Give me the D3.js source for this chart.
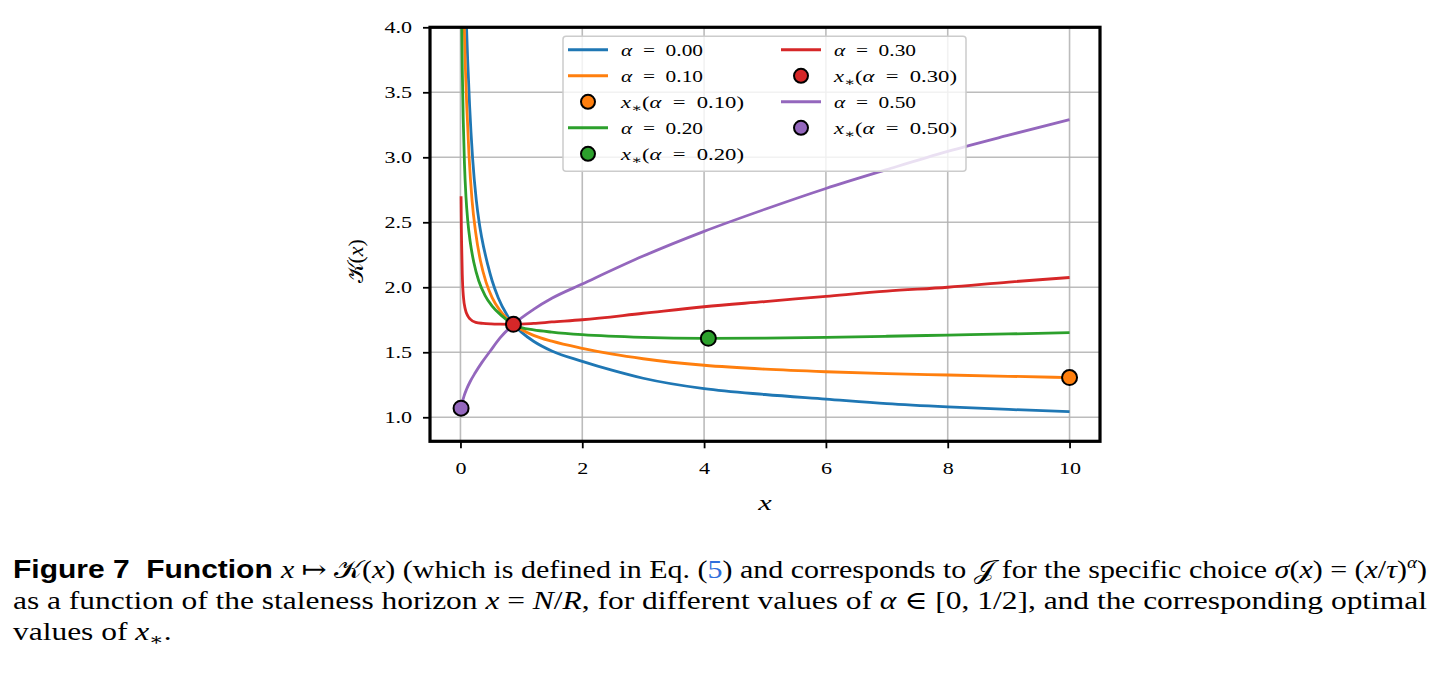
<!DOCTYPE html>
<html>
<head>
<meta charset="utf-8">
<script src="https://cdn.jsdelivr.net/npm/d3@7"></script>
<style>
  body { margin: 0; background: #fff; }
  text { font-family: "Liberation Serif", "DejaVu Serif", serif; }
</style>
</head>
<body>
<div id="figure-container"></div>
<script>
// ---- data ----
var xTicks = [0, 2, 4, 6, 8, 10];
var yTicks = [1.0, 1.5, 2.0, 2.5, 3.0, 3.5, 4.0];

var alphaLabels = ['0.00', '0.10', '0.20', '0.30', '0.50'];
var colors = ['#1f77b4', '#ff7f0e', '#2ca02c', '#d62728', '#9467bd'];

// alpha = 0.00
var xA0 = [0.094, 0.12, 0.15, 0.2, 0.26, 0.31, 0.35, 0.45, 0.52, 0.62, 0.76, 0.87, 1.0, 1.2, 1.5, 2, 2.5, 3, 4, 5, 6, 7, 8, 9, 10];
var kA0 = [4.08, 3.73, 3.40, 2.99, 2.67, 2.49, 2.38, 2.17, 2.05, 1.92, 1.79, 1.715, 1.655, 1.585, 1.51, 1.43, 1.36, 1.30, 1.22, 1.175, 1.14, 1.105, 1.08, 1.06, 1.043];
// alpha = 0.10
var xA1 = [0.06, 0.08, 0.105, 0.14, 0.19, 0.25, 0.33, 0.42, 0.52, 0.65, 0.76, 0.87, 1.0, 1.2, 1.5, 2, 2.5, 3, 4, 5, 6, 7, 8, 9, 10];
var kA1 = [4.05, 3.70, 3.38, 3.02, 2.67, 2.42, 2.20, 2.04, 1.92, 1.82, 1.76, 1.715, 1.675, 1.63, 1.585, 1.53, 1.485, 1.45, 1.40, 1.37, 1.35, 1.335, 1.325, 1.315, 1.305];
// alpha = 0.20
var xA2 = [0.02, 0.03, 0.045, 0.065, 0.09, 0.12, 0.16, 0.22, 0.3, 0.4, 0.52, 0.68, 0.87, 1.0, 1.2, 1.5, 2, 3, 4, 5, 6, 7, 8, 9, 10];
var kA2 = [4.05, 3.68, 3.30, 2.96, 2.70, 2.51, 2.35, 2.19, 2.05, 1.94, 1.855, 1.78, 1.715, 1.69, 1.672, 1.655, 1.635, 1.614, 1.607, 1.609, 1.615, 1.623, 1.632, 1.641, 1.651];
// alpha = 0.30
var xA3 = [0.01, 0.015, 0.02, 0.03, 0.05, 0.08, 0.12, 0.16, 0.25, 0.37, 0.5, 0.65, 0.87, 1.2, 1.5, 2, 3, 4, 5, 6, 7, 8, 9, 10];
var kA3 = [2.70, 2.45, 2.32, 2.10, 1.92, 1.83, 1.78, 1.755, 1.73, 1.722, 1.718, 1.716, 1.715, 1.722, 1.733, 1.75, 1.80, 1.85, 1.89, 1.93, 1.97, 2.00, 2.04, 2.075];
// alpha = 0.50
var xA5 = [0.01, 0.03, 0.06, 0.1, 0.16, 0.24, 0.35, 0.49, 0.65, 0.87, 1.2, 1.5, 2, 3, 4, 5, 6, 7, 8, 9, 10];
var kA5 = [1.07, 1.115, 1.165, 1.215, 1.275, 1.34, 1.42, 1.51, 1.61, 1.715, 1.83, 1.915, 2.025, 2.24, 2.43, 2.60, 2.76, 2.905, 3.045, 3.17, 3.29];

// optimal points x_* (alpha = 0.10, 0.20, 0.30, 0.50)
var optAlpha = ['0.10', '0.20', '0.30', '0.50'];
var optX = [10, 4.07, 0.87, 0.01];
var optK = [1.305, 1.607, 1.715, 1.07];

var xsList = [xA0, xA1, xA2, xA3, xA5];
var ksList = [kA0, kA1, kA2, kA3, kA5];

// ---- layout ----
var fullWidth = 1446, fullHeight = 678;
var margin = {top: 27.3, left: 430};
var width = 670;
var height = 414;

// the figure is a bit wider than tall, glyphs included
var stretchX = 1.38;

var xScale = d3.scaleLinear().domain([-0.5, 10.5]).range([0, width]);
var yScale = d3.scaleLinear().domain([0.815, 4.0]).range([height, 0]);

var root = d3.select('#figure-container')
  .append('svg')
  .attr('width', fullWidth)
  .attr('height', fullHeight);

root.append('rect').attr('width', fullWidth).attr('height', fullHeight).attr('fill', '#fff');

var svg = root.append('g')
  .attr('transform', `translate(${margin.left},${margin.top})`);

svg.append('defs').append('clipPath')
  .attr('id', 'clip')
  .append('rect')
  .attr('width', width)
  .attr('height', height);

function stretch(sel, k) {
  sel.each(function() {
    var len = this.getComputedTextLength();
    d3.select(this).attr('textLength', len * k).attr('lengthAdjust', 'spacingAndGlyphs');
  });
}

// grid
svg.append('g').selectAll('line')
  .data(xTicks).enter().append('line')
  .attr('x1', d => xScale(d)).attr('x2', d => xScale(d))
  .attr('y1', 0).attr('y2', height)
  .attr('stroke', '#b0b0b0').attr('stroke-width', 1.6).attr('stroke-opacity', 0.85);
svg.append('g').selectAll('line')
  .data(yTicks).enter().append('line')
  .attr('y1', d => yScale(d)).attr('y2', d => yScale(d))
  .attr('x1', 0).attr('x2', width)
  .attr('stroke', '#b0b0b0').attr('stroke-width', 1.6).attr('stroke-opacity', 0.85);

// curves
var line = d3.line()
  .x(d => xScale(d[0]))
  .y(d => yScale(d[1]))
  .curve(d3.curveMonotoneX);

var dataArea = svg.append('g').attr('clip-path', 'url(#clip)');
xsList.forEach(function(xs, i) {
  var pts = xs.map((x, j) => [x, ksList[i][j]]);
  dataArea.append('path')
    .datum(pts)
    .attr('d', line)
    .attr('fill', 'none')
    .attr('stroke', colors[i])
    .attr('stroke-width', 2.8)
    .attr('stroke-linejoin', 'round');
});

// optimum markers
svg.append('g').selectAll('circle')
  .data(optX).enter().append('circle')
  .attr('cx', d => xScale(d))
  .attr('cy', (d, i) => yScale(optK[i]))
  .attr('r', 7.5)
  .attr('fill', (d, i) => colors[i + 1])
  .attr('stroke', '#000')
  .attr('stroke-width', 2);

// axes
var xAxis = d3.axisBottom(xScale).tickValues(xTicks).tickFormat(d3.format('d')).tickSize(7).tickPadding(14);
var yAxis = d3.axisLeft(yScale).tickValues(yTicks).tickFormat(d3.format('.1f')).tickSize(7).tickPadding(11);

var gx = svg.append('g').attr('transform', `translate(0,${height})`).call(xAxis);
var gy = svg.append('g').call(yAxis);
[gx, gy].forEach(function(g) {
  g.select('.domain').remove();
  g.selectAll('line').attr('stroke', '#000').attr('stroke-width', 1.8);
  g.selectAll('text')
    .attr('font-family', '"Liberation Serif", serif')
    .attr('font-size', 16)
    .attr('fill', '#000')
    .call(stretch, stretchX);
});

// frame
svg.append('rect')
  .attr('width', width).attr('height', height)
  .attr('fill', 'none').attr('stroke', '#000').attr('stroke-width', 3.2);

// axis labels
svg.append('text')
  .attr('x', xScale(5)).attr('y', height + 69)
  .attr('text-anchor', 'middle')
  .attr('font-size', 22).attr('font-style', 'italic')
  .text('x')
  .call(stretch, stretchX);

svg.append('text')
  .attr('transform', `translate(-67,${yScale(2.2)}) rotate(-90)`)
  .attr('text-anchor', 'middle')
  .attr('font-size', 22)
  .call(function(t) {
    t.append('tspan').text('𝒦(');
    t.append('tspan').attr('font-style', 'italic').text('x');
    t.append('tspan').text(')');
  });

// legend
var legend = svg.append('g').attr('transform', 'translate(133,9)');
legend.append('rect')
  .attr('width', 403).attr('height', 135).attr('rx', 3)
  .attr('fill', '#fff').attr('fill-opacity', 0.8)
  .attr('stroke', '#ccc').attr('stroke-width', 1.5);

var legendItems = [
  {col: 0, row: 0, kind: 'line', c: 0, a: alphaLabels[0]},
  {col: 0, row: 1, kind: 'line', c: 1, a: alphaLabels[1]},
  {col: 0, row: 2, kind: 'dot', c: 1, a: optAlpha[0]},
  {col: 0, row: 3, kind: 'line', c: 2, a: alphaLabels[2]},
  {col: 0, row: 4, kind: 'dot', c: 2, a: optAlpha[1]},
  {col: 1, row: 0, kind: 'line', c: 3, a: alphaLabels[3]},
  {col: 1, row: 1, kind: 'dot', c: 3, a: optAlpha[2]},
  {col: 1, row: 2, kind: 'line', c: 4, a: alphaLabels[4]},
  {col: 1, row: 3, kind: 'dot', c: 4, a: optAlpha[3]}
];

var eq = '\u2002=\u2002';
legendItems.forEach(function(it) {
  var hx = 5 + it.col * 213;
  var ry = 13.5 + it.row * 26;
  var g = legend.append('g');
  if (it.kind === 'line') {
    g.append('line')
      .attr('x1', hx).attr('x2', hx + 40)
      .attr('y1', ry).attr('y2', ry)
      .attr('stroke', colors[it.c]).attr('stroke-width', 3);
  } else {
    g.append('circle')
      .attr('cx', hx + 20).attr('cy', ry).attr('r', 7)
      .attr('fill', colors[it.c]).attr('stroke', '#000').attr('stroke-width', 2);
  }
  var t = g.append('text')
    .attr('x', hx + 53).attr('y', ry + 6)
    .attr('font-size', 17)
    .attr('lengthAdjust', 'spacingAndGlyphs');
  if (it.kind === 'line') {
    t.attr('textLength', 82);
    t.append('tspan').attr('font-style', 'italic').text('α');
    t.append('tspan').text(eq + it.a);
  } else {
    t.attr('textLength', 123);
    t.append('tspan').attr('font-style', 'italic').text('x');
    t.append('tspan').attr('font-size', 12).attr('dy', 4).text('∗');
    t.append('tspan').attr('dy', -4).text('(');
    t.append('tspan').attr('font-style', 'italic').text('α');
    t.append('tspan').text(eq + it.a + ')');
  }
});

// caption
var capSize = 25;
var cap = root.append('g');
var l1 = cap.append('text').attr('x', 13).attr('y', 578).attr('font-size', capSize);
l1.append('tspan').attr('font-family', '"Liberation Sans", Arial, sans-serif').attr('font-weight', 'bold').text('Figure 7\u00a0\u00a0Function ');
l1.append('tspan').attr('font-style', 'italic').text('x');
l1.append('tspan').text(' ↦ 𝒦(');
l1.append('tspan').attr('font-style', 'italic').text('x');
l1.append('tspan').text(') (which is defined in Eq. (');
l1.append('tspan').attr('fill', '#2f6fdc').text('5');
l1.append('tspan').text(') and corresponds to 𝒥 for the specific choice ');
l1.append('tspan').attr('font-style', 'italic').text('σ');
l1.append('tspan').text('(');
l1.append('tspan').attr('font-style', 'italic').text('x');
l1.append('tspan').text(') = (');
l1.append('tspan').attr('font-style', 'italic').text('x');
l1.append('tspan').text('/');
l1.append('tspan').attr('font-style', 'italic').text('τ');
l1.append('tspan').text(')');
l1.append('tspan').attr('font-style', 'italic').attr('font-size', 16).attr('dy', -10).text('α');
l1.append('tspan').attr('font-size', capSize).attr('dy', 10).text(')');
l1.attr('textLength', 1414).attr('lengthAdjust', 'spacingAndGlyphs');

var l2 = cap.append('text').attr('x', 13).attr('y', 609).attr('font-size', capSize);
l2.append('tspan').text('as a function of the staleness horizon ');
l2.append('tspan').attr('font-style', 'italic').text('x');
l2.append('tspan').text(' = ');
l2.append('tspan').attr('font-style', 'italic').text('N');
l2.append('tspan').text('/');
l2.append('tspan').attr('font-style', 'italic').text('R');
l2.append('tspan').text(', for different values of ');
l2.append('tspan').attr('font-style', 'italic').text('α');
l2.append('tspan').text(' ∈ [0, 1/2], and the corresponding optimal');
var k2 = 1414 / l2.node().getComputedTextLength();
l2.attr('textLength', 1414).attr('lengthAdjust', 'spacingAndGlyphs');

var l3 = cap.append('text').attr('x', 13).attr('y', 640).attr('font-size', capSize);
l3.append('tspan').text('values of ');
l3.append('tspan').attr('font-style', 'italic').text('x');
l3.append('tspan').attr('font-size', 17).attr('dy', 5).text('∗');
l3.append('tspan').attr('dy', -5).text('.');
l3.call(stretch, Math.min(k2, 1.3));
</script>
</body>
</html>
